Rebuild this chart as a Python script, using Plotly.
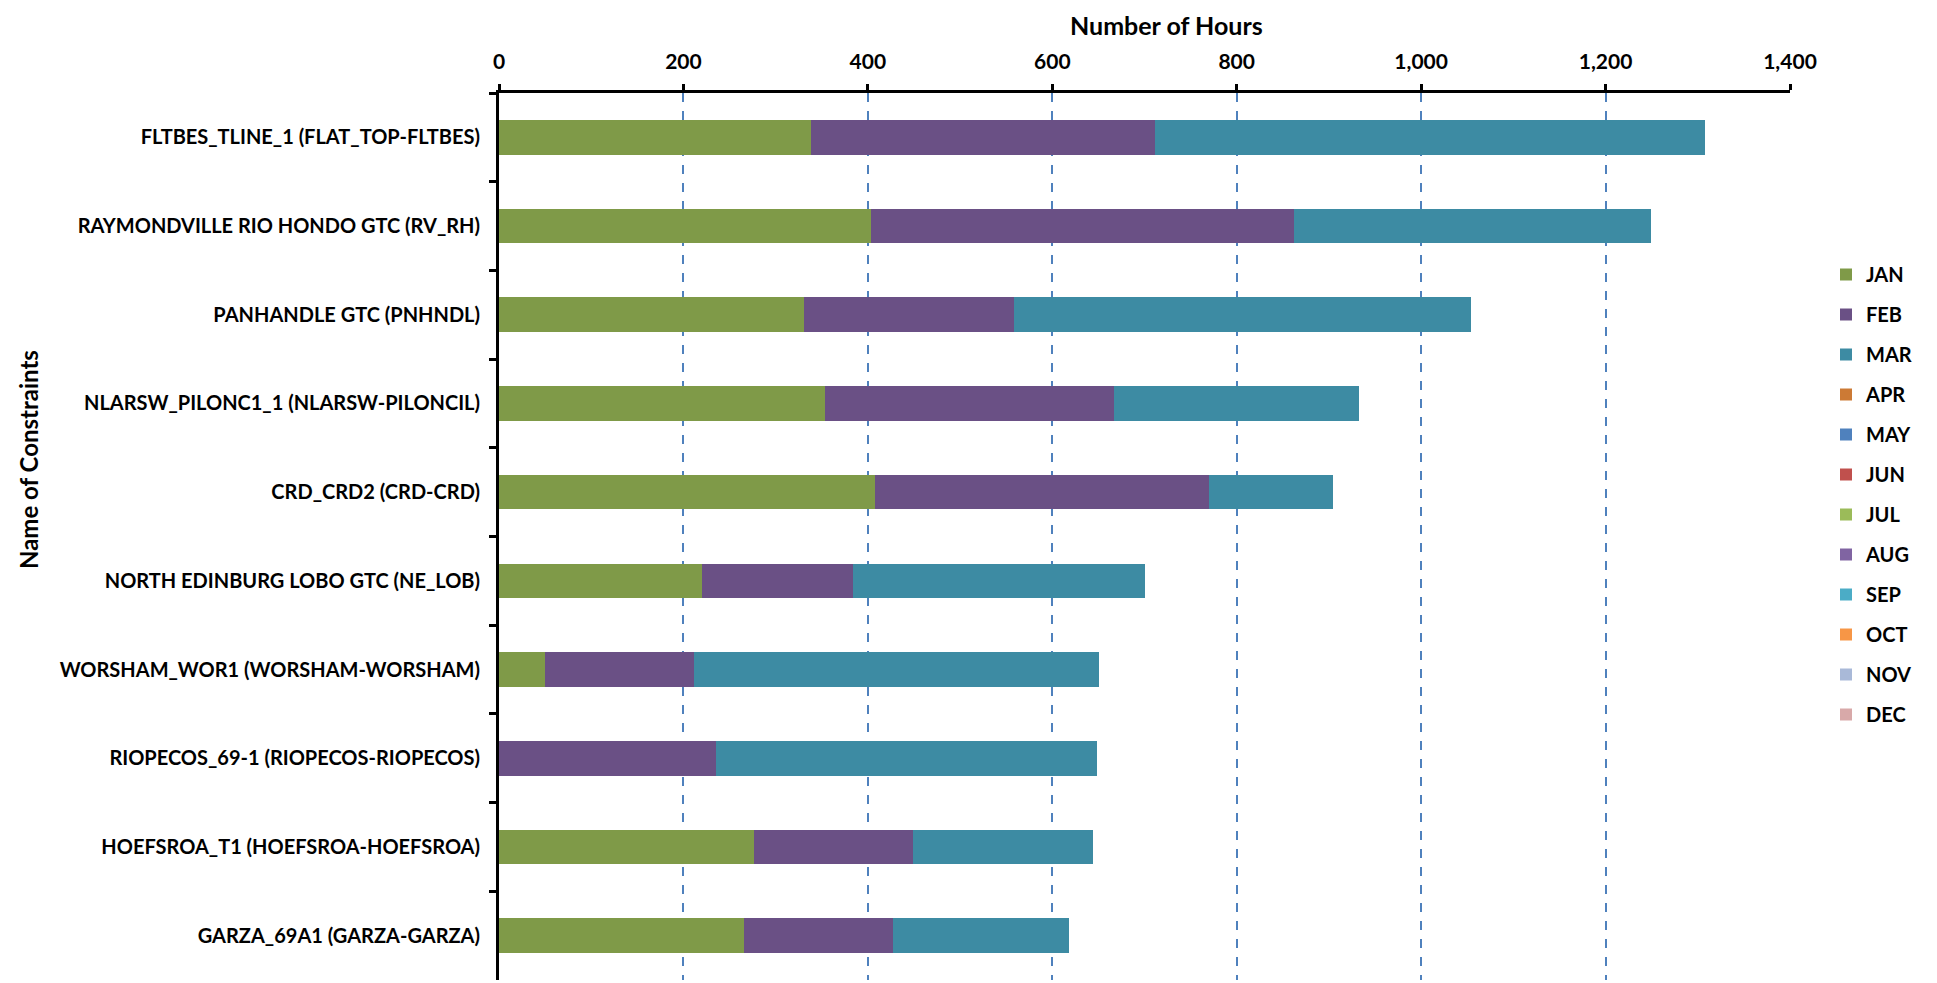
import plotly.graph_objects as go

# constraint names, top to bottom
constraints = [
    "FLTBES_TLINE_1 (FLAT_TOP-FLTBES)",
    "RAYMONDVILLE RIO HONDO GTC (RV_RH)",
    "PANHANDLE GTC (PNHNDL)",
    "NLARSW_PILONC1_1 (NLARSW-PILONCIL)",
    "CRD_CRD2 (CRD-CRD)",
    "NORTH EDINBURG LOBO GTC (NE_LOB)",
    "WORSHAM_WOR1 (WORSHAM-WORSHAM)",
    "RIOPECOS_69-1 (RIOPECOS-RIOPECOS)",
    "HOEFSROA_T1 (HOEFSROA-HOEFSROA)",
    "GARZA_69A1 (GARZA-GARZA)",
]

# hours binding per month (only Jan-Mar have data)
jan = [338, 403, 331, 353, 408, 220, 50, 0, 276, 266]
feb = [373, 459, 227, 314, 362, 164, 162, 235, 173, 161]
mar = [597, 387, 496, 266, 134, 316, 439, 413, 195, 191]
empty = [0] * len(constraints)

months = ["JAN", "FEB", "MAR", "APR", "MAY", "JUN",
          "JUL", "AUG", "SEP", "OCT", "NOV", "DEC"]
month_values = [jan, feb, mar] + [empty] * 9
month_colors = ["#7F9A48", "#6A5085", "#3D8BA3", "#CC7A35", "#4F81BD", "#C0504D",
                "#9BBB59", "#8064A2", "#4BACC6", "#F79646", "#A9B9D8", "#D8A9A9"]

x_ticks = [0, 200, 400, 600, 800, 1000, 1200, 1400]

FONT = "Lato"

fig = go.Figure()
for m, vals, c in zip(months, month_values, month_colors):
    fig.add_trace(go.Bar(
        y=constraints, x=vals, name=m, orientation="h",
        marker=dict(color=c, line=dict(width=0)),
        legendgroup=m,
    ))

# page body has an 8px margin, so work in figure pixels = screen - 8
OFF = 8
W, H = 1937 - OFF, 983 - OFF
L, R, T, B = 499 - OFF, 1790 - OFF, 93 - OFF, 980 - OFF
pw, ph = R - L, B - T

fig.update_layout(
    width=W, height=H,
    barmode="stack", bargap=0.61,
    plot_bgcolor="white", paper_bgcolor="white",
    margin=dict(l=L, r=W - R, t=T, b=H - B, autoexpand=False),
    font=dict(family=FONT, color="black", size=20),
    legend=dict(
        x=(1826 - OFF - L) / pw, xanchor="left",
        y=1 - (255 - OFF - T) / ph, yanchor="top",
        font=dict(family=FONT, size=20, color="black", weight="bold"),
        tracegroupgap=11, bgcolor="rgba(0,0,0,0)",
    ),
    xaxis=dict(
        side="top", range=[0, 1400], tickvals=x_ticks, tickformat=",",
        showline=True, linecolor="black", linewidth=3,
        ticks="outside", ticklen=6, tickwidth=3, tickcolor="black",
        ticklabelstandoff=7,
        tickfont=dict(family=FONT, size=21, color="black", weight="bold"),
        showgrid=True, gridcolor="#4F81BD", griddash="dash", gridwidth=1.5,
        zeroline=False,
    ),
    yaxis=dict(
        categoryorder="array", categoryarray=constraints, autorange="reversed",
        showline=True, linecolor="black", linewidth=3,
        ticks="outside", tickson="boundaries", ticklen=7, tickwidth=3,
        tickcolor="black", ticklabelstandoff=12,
        tickfont=dict(family=FONT, size=20, color="black", weight="bold"),
        showgrid=False, zeroline=False,
    ),
    annotations=[
        dict(text="Number of Hours", xref="paper", yref="paper",
             x=(1166 - OFF - L) / pw, y=1 + (T - 17) / ph,
             xanchor="center", yanchor="middle", showarrow=False,
             font=dict(family=FONT, size=25, color="black", weight="bold")),
        dict(text="Name of Constraints", xref="paper", yref="paper",
             x=(28 - OFF - L) / pw, y=(B - (460 - OFF)) / ph, textangle=-90,
             xanchor="center", yanchor="middle", showarrow=False,
             font=dict(family=FONT, size=24, color="black", weight="bold")),
    ],
)

fig.write_html("out.html")
